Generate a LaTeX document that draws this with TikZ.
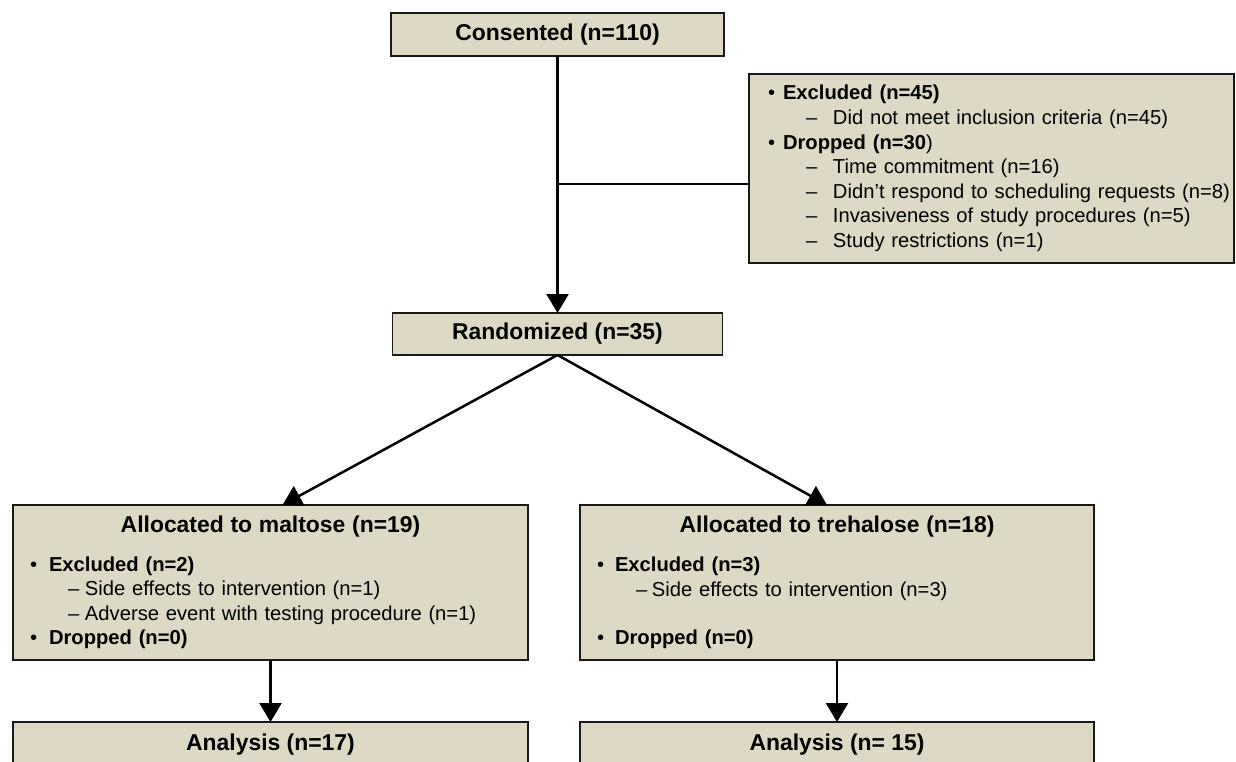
\documentclass[tikz,border=0pt]{standalone}
\usepackage{fontspec}
\setmainfont{Liberation Sans}
\usetikzlibrary{arrows.meta, positioning}

\definecolor{boxtan}{HTML}{DDD9C4}
% bullet and dash lines of the lists
\newcommand{\bulln}[1]{\makebox[#1][l]{•}}
\newcommand{\subln}[2]{\hspace*{#1}\makebox[#2][l]{–}}

\begin{document}
\begin{tikzpicture}[x=1pt, y=-1pt,
    box/.style={draw=black!90, line width=1.7pt, fill=boxtan,
                outer sep=0pt, inner sep=0pt},
    head/.style={box, font=\fontsize{22.9}{27}\selectfont\bfseries},
    list/.style={box, align=left, font=\fontsize{20.2}{24.6}\selectfont},
    arr/.style={-{Triangle[width=22pt,length=19pt]}, line width=2.5pt},
    link/.style={line width=2.5pt}
  ]
  \useasboundingbox (0,0) rectangle (1236,761);
  \node[head, minimum width=333pt, minimum height=43pt] (cons) at (557.5,34.5)
    {Consented (n=110)};
  \node[head, minimum width=330pt, minimum height=42pt, below=257pt of cons] (rand)
    {Randomized (n=35)};
  \node[list, text width=447pt, inner xsep=19pt, minimum height=189pt] (excl) at (991.5,168.5)
    {\bulln{15pt}\textbf{Excluded (n=45)}\\
     \subln{38pt}{27pt}Did not meet inclusion criteria (n=45)\\
     \bulln{15pt}\textbf{Dropped (n=30})\\
     \subln{38pt}{27pt}Time commitment (n=16)\\
     \mbox{\subln{38pt}{27pt}Didn’t respond to scheduling requests (n=8)}\\
     \subln{38pt}{27pt}Invasiveness of study procedures (n=5)\\
     \subln{38pt}{27pt}Study restrictions (n=1)};
  \node[list, text width=481pt, inner xsep=17pt, minimum height=155pt] (malt) at (270.5,582.5)
    {\makebox[\hsize]{\fontsize{22.9}{27}\selectfont\bfseries Allocated to maltose (n=19)}\\[14pt]
     \bulln{19pt}\textbf{Excluded (n=2)}\\
     \subln{38pt}{17pt}Side effects to intervention (n=1)\\
     \subln{38pt}{17pt}Adverse event with testing procedure (n=1)\\
     \bulln{19pt}\textbf{Dropped (n=0)}};
  \node[list, text width=480pt, inner xsep=17pt, minimum height=155pt, right=52pt of malt] (treh)
    {\makebox[\hsize]{\fontsize{22.9}{27}\selectfont\bfseries Allocated to trehalose (n=18)}\\[14pt]
     \bulln{18pt}\textbf{Excluded (n=3)}\\
     \subln{39pt}{16pt}Side effects to intervention (n=3)\\[24pt]
     \bulln{18pt}\textbf{Dropped (n=0)}};
  \node[head, minimum width=515pt, minimum height=46pt, below=62pt of malt] (ana1)
    {Analysis (n=17)};
  \node[head, minimum width=514pt, minimum height=46pt, below=62pt of treh] (ana2)
    {Analysis (n= 15)};
  % connectors
  \coordinate (split) at (557.5,184);
  \draw[arr] (cons) -- (rand);
  \draw[link] (split) -- (split -| excl.west);
  \draw[arr] (rand.south) -- ([xshift=12pt]malt.north);
  \draw[arr] (rand.south) -- ([xshift=-10pt]treh.north);
  \draw[arr] (malt) -- (ana1);
  \draw[arr] (treh) -- (ana2);
\end{tikzpicture}
\end{document}
